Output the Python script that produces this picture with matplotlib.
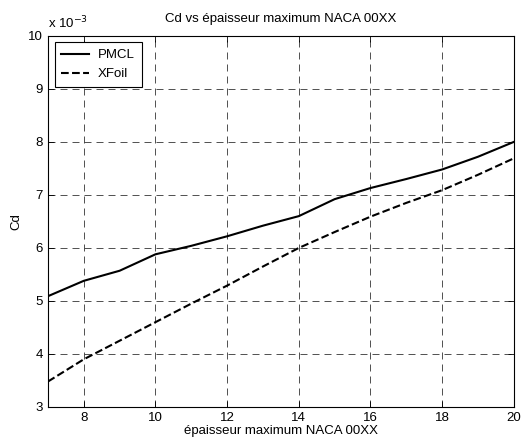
import matplotlib
matplotlib.use("Agg")
import matplotlib.pyplot as plt

plt.rcParams['font.family'] = ['Liberation Sans', 'DejaVu Sans']

# Thickness (% chord) and drag coefficients (x 1e-3)
epaisseur = [7, 8, 9, 10, 11, 12, 13, 14, 15, 16, 17, 18, 19, 20]
cd_pmcl = [5.09, 5.38, 5.57, 5.88, 6.04, 6.22, 6.42, 6.60, 6.92, 7.13, 7.30, 7.48, 7.72, 8.00]
cd_xfoil = [3.48, 3.90, 4.25, 4.60, 4.95, 5.29, 5.65, 6.00, 6.30, 6.59, 6.85, 7.09, 7.38, 7.69]

fig = plt.figure(figsize=(5.27, 4.45), dpi=100)
ax = fig.add_axes([0.091, 0.0854, 0.884, 0.834])

ax.plot(epaisseur, cd_pmcl, 'k-', lw=1.5, label='PMCL')
ax.plot(epaisseur, cd_xfoil, 'k--', lw=1.5, label='XFoil')

ax.set_xlim(7, 20)
ax.set_ylim(3, 10)
ax.set_xticks(range(8, 21, 2))
ax.set_yticks(range(3, 11))

ax.grid(True, color='0.2', ls=(0, (8.4, 6)), lw=0.6)
ax.tick_params(direction='in', top=True, right=True, labelsize=9.5, length=4, width=0.6)
for s in ax.spines.values():
    s.set_linewidth(0.8)

ax.set_title('Cd vs épaisseur maximum NACA 00XX', fontsize=9.5, pad=10)
ax.set_xlabel('épaisseur maximum NACA 00XX', fontsize=9.5, labelpad=1)
ax.set_ylabel('Cd', fontsize=9.5)
ax.text(0.0, 1.012, r'x 10$^{-3}$', transform=ax.transAxes, fontsize=9.5, va='bottom')

leg = ax.legend(loc='upper left', fontsize=9.5, fancybox=False, framealpha=1,
                edgecolor='k', borderaxespad=0.5, handlelength=2.1,
                handletextpad=0.7, borderpad=0.5)
leg.get_frame().set_linewidth(0.8)

fig.savefig('out.png', dpi=100)
